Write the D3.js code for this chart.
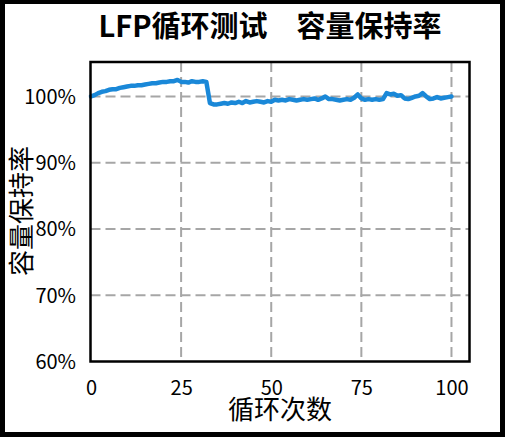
<!DOCTYPE html>
<html>
<head>
<meta charset="utf-8">
<script src="https://cdn.jsdelivr.net/npm/d3@7"></script>
<style>
  body { margin: 0; background: #fff; }
  svg { display: block; }
  text { font-family: "Noto Sans CJK SC", "Noto Sans", sans-serif; fill: #000; }
</style>
</head>
<body>
<div id="chart"></div>
<script>
// 循环次数
var cycles = d3.range(0, 101);
// 容量保持率 (%)
var retention = [
	100.0, 100.2, 100.5, 100.7, 100.8, 101.0, 101.1, 101.1, 101.3, 101.4,
	101.5, 101.6, 101.6, 101.7, 101.7, 101.8, 101.9, 102.0, 102.0, 102.1,
	102.2, 102.2, 102.3, 102.3, 102.5, 102.2, 102.2, 102.1, 102.3, 102.2,
	102.2, 102.3, 102.2, 99.0, 98.8, 98.8, 98.9, 99.0, 98.9, 99.1,
	99.0, 99.2, 99.0, 99.3, 99.1, 99.2, 99.3, 99.2, 99.1, 99.3,
	99.2, 99.5, 99.4, 99.5, 99.4, 99.6, 99.5, 99.4, 99.5, 99.6,
	99.5, 99.6, 99.7, 99.5, 99.7, 100.0, 99.6, 99.6, 99.5, 99.4,
	99.5, 99.6, 99.5, 99.8, 100.3, 99.7, 99.5, 99.6, 99.5, 99.6,
	99.5, 99.6, 100.5, 100.3, 100.4, 100.1, 100.2, 99.7, 99.6, 99.8,
	100.0, 100.1, 100.5, 100.0, 99.6, 99.7, 99.9, 99.7, 99.8, 99.9,
	100.0
];
var xTicks = [0, 25, 50, 75, 100];
var yTicks = [60, 70, 80, 90, 100];

var titleText = "LFP循环测试\u3000容量保持率",
	xLabel = "循环次数",
	yLabel = "容量保持率";

var width = 505,
	height = 437,
	plot = {left: 90.5, right: 469.5, top: 62, bottom: 361.5};

var svg = d3.select("#chart")
	.append("svg")
	.attr("width", width)
	.attr("height", height);

var x = d3.scaleLinear().domain([0, 105]).range([plot.left + 0.5, plot.right]);
var y = d3.scaleLinear().domain([60, 105.2]).range([plot.bottom, plot.top]);

// outer black border
svg.append("rect")
	.attr("x", 2.5).attr("y", 1.5)
	.attr("width", width - 5).attr("height", height - 4)
	.attr("fill", "none")
	.attr("stroke", "#000")
	.attr("stroke-width", 5);

// grid
var grid = svg.append("g").attr("class", "grid");
grid.selectAll("line.gx")
	.data(xTicks.filter(d => d > 0))
	.enter().append("line")
	.attr("x1", d => x(d)).attr("x2", d => x(d))
	.attr("y1", plot.top).attr("y2", plot.bottom)
	.attr("stroke", "#a6a6a6")
	.attr("stroke-width", 2)
	.attr("stroke-dasharray", "10,5");
grid.selectAll("line.gy")
	.data(yTicks.filter(d => d > 60))
	.enter().append("line")
	.attr("x1", plot.left).attr("x2", plot.right)
	.attr("y1", d => y(d)).attr("y2", d => y(d))
	.attr("stroke", "#a6a6a6")
	.attr("stroke-width", 2)
	.attr("stroke-dasharray", "10,5");

// data line
var line = d3.line()
	.x((d, i) => x(cycles[i]))
	.y(d => y(d));

svg.append("path")
	.datum(retention)
	.attr("d", line)
	.attr("fill", "none")
	.attr("stroke", "#1a88d8")
	.attr("stroke-width", 4.5)
	.attr("stroke-linejoin", "round")
	.attr("stroke-linecap", "round");

// frame
svg.append("rect")
	.attr("x", plot.left).attr("y", plot.top)
	.attr("width", plot.right - plot.left)
	.attr("height", plot.bottom - plot.top)
	.attr("fill", "none")
	.attr("stroke", "#000")
	.attr("stroke-width", 2.5);

// axes (labels only, no tick marks)
var xAxis = d3.axisBottom(x).tickValues(xTicks).tickSize(0).tickPadding(0);
var yAxis = d3.axisLeft(y).tickValues(yTicks).tickSize(0).tickPadding(0)
	.tickFormat(d => d + "%");

var xg = svg.append("g")
	.attr("transform", "translate(0," + (plot.bottom + 26) + ")")
	.call(xAxis);
xg.select(".domain").remove();
xg.selectAll("text")
	.attr("dy", "0.35em")
	.style("font-size", "20px")
	.style("font-family", '"Noto Sans CJK SC", sans-serif');

var yg = svg.append("g")
	.attr("transform", "translate(" + 76 + ",0)")
	.call(yAxis);
yg.select(".domain").remove();
yg.selectAll("text")
	.attr("dy", "0.35em")
	.style("font-size", "20px")
	.style("font-family", '"Noto Sans CJK SC", sans-serif');

// title and axis labels
svg.append("text")
	.attr("x", 270)
	.attr("y", 27)
	.attr("dy", "0.35em")
	.attr("text-anchor", "middle")
	.style("font-size", "29px")
	.style("font-weight", "bold")
	.text(titleText);

svg.append("text")
	.attr("x", 280)
	.attr("y", 410)
	.attr("dy", "0.35em")
	.attr("text-anchor", "middle")
	.style("font-size", "26px")
	.text(xLabel);

svg.append("text")
	.attr("transform", "translate(22,211) rotate(-90)")
	.attr("dy", "0.35em")
	.attr("text-anchor", "middle")
	.style("font-size", "26px")
	.text(yLabel);
</script>
</body>
</html>
